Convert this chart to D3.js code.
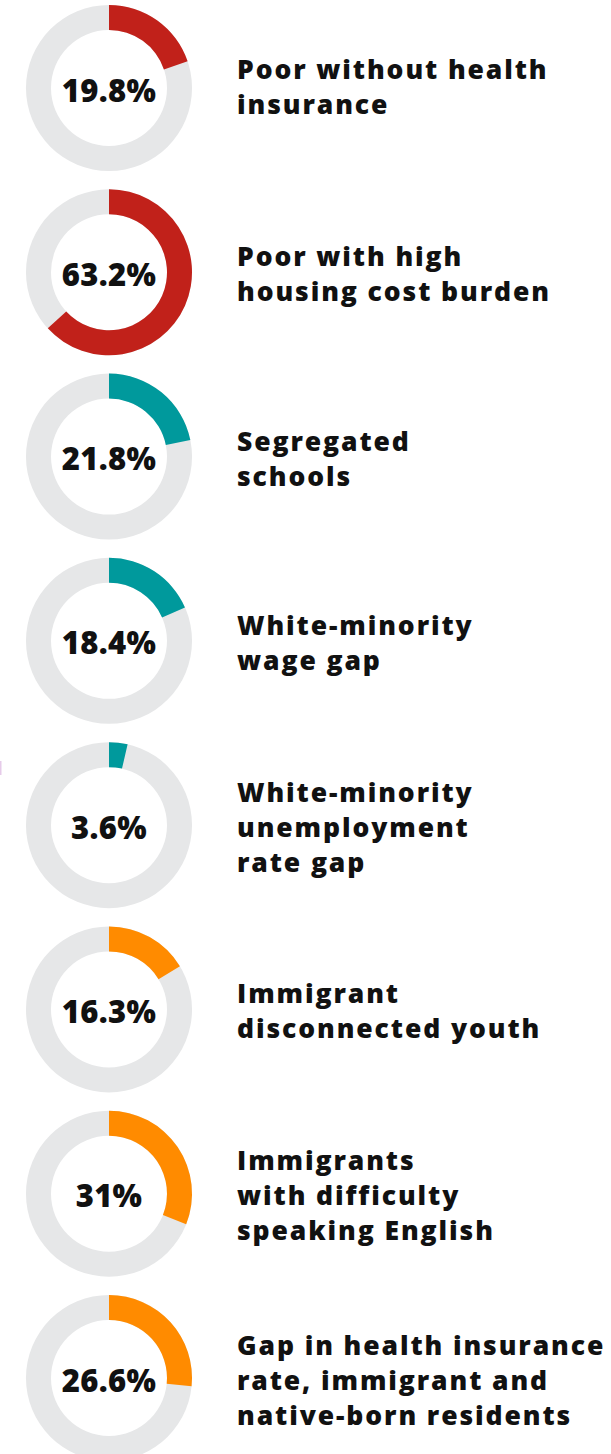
<!DOCTYPE html>
<html>
<head>
<meta charset="utf-8">
<script src="https://cdn.jsdelivr.net/npm/d3@7"></script>
<style>
  html, body { margin: 0; padding: 0; background: #fff; }
  svg { display: block; }
  .label { font-family: "Open Sans", Lato, sans-serif; font-weight: 800; fill: #111; }
  .pct { font-family: "Open Sans", Lato, sans-serif; font-weight: 800; fill: #111; }
</style>
</head>
<body>
<script>
// データ
var labels = [
  ["Poor without health", "insurance"],
  ["Poor with high", "housing cost burden"],
  ["Segregated", "schools"],
  ["White-minority", "wage gap"],
  ["White-minority", "unemployment", "rate gap"],
  ["Immigrant", "disconnected youth"],
  ["Immigrants", "with difficulty", "speaking English"],
  ["Gap in health insurance", "rate, immigrant and", "native-born residents"]
];
var values = [19.8, 63.2, 21.8, 18.4, 3.6, 16.3, 31, 26.6];
var pctText = ["19.8%", "63.2%", "21.8%", "18.4%", "3.6%", "16.3%", "31%", "26.6%"];
var groups = ["poverty", "poverty", "race", "race", "race", "immigrant", "immigrant", "immigrant"];

var width = 611, height = 1454;
var outerR = 83, innerR = 58;
var lineH = 35;

var color = d3.scaleOrdinal()
  .domain(["poverty", "race", "immigrant"])
  .range(["#c1211a", "#00999c", "#ff8b00"]);

// 縦位置
var y = d3.scalePoint()
  .domain(d3.range(values.length))
  .range([88, 1378]);

var pctScale = d3.scaleLinear().domain([0, 100]).range([0, 2 * Math.PI]);

var arc = d3.arc().innerRadius(innerR).outerRadius(outerR);

var svg = d3.select("body").append("svg")
  .attr("width", width)
  .attr("height", height);

// 左端の小さな印
svg.append("rect")
  .attr("x", 0).attr("y", 761)
  .attr("width", 1.5).attr("height", 14)
  .attr("fill", "#e6cbe9");

var row = svg.selectAll("g.row")
  .data(values)
  .enter().append("g")
  .attr("class", "row")
  .attr("transform", (d, i) => "translate(109," + y(i) + ")");

// 背景リング
row.append("path")
  .attr("fill", "#e6e7e8")
  .attr("d", arc({startAngle: 0, endAngle: 2 * Math.PI}));

// 値の弧
row.append("path")
  .attr("fill", (d, i) => color(groups[i]))
  .attr("d", d => arc({startAngle: 0, endAngle: pctScale(d)}));

// 中央の数値
row.append("text")
  .attr("class", "pct")
  .attr("text-anchor", "middle")
  .attr("y", 13.5)
  .attr("font-size", 31)
  .attr("letter-spacing", 0.3)
  .text((d, i) => pctText[i]);

// ラベル
row.each(function(d, i) {
  var lines = labels[i];
  var capH = 19;
  var first = -((lines.length - 1) * lineH + capH) / 2 + capH + (i === 0 ? -1 : 2);
  var t = d3.select(this).append("text")
    .attr("class", "label")
    .attr("x", 128)
    .attr("font-size", 26.5)
    .attr("letter-spacing", 1.9);
  lines.forEach((s, k) => {
    t.append("tspan")
      .attr("x", 128)
      .attr("y", first + k * lineH)
      .text(s);
  });
});
</script>
</body>
</html>
